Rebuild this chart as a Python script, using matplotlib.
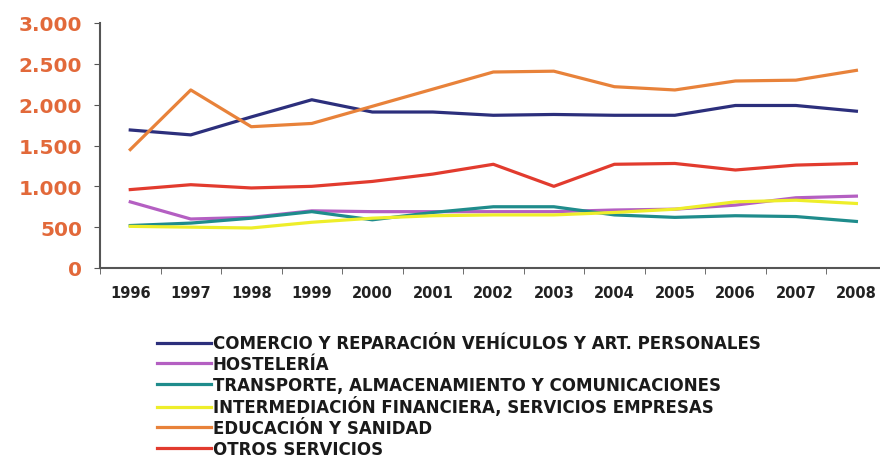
import matplotlib
matplotlib.use("Agg")
import matplotlib.pyplot as plt
from matplotlib.ticker import FuncFormatter, FixedLocator

years = ["1996", "1997", "1998", "1999", "2000", "2001", "2002",
         "2003", "2004", "2005", "2006", "2007", "2008"]

comercio = [1690, 1630, 1850, 2060, 1910, 1910, 1870, 1880, 1870, 1870, 1990, 1990, 1920]
hosteleria = [810, 600, 620, 700, 690, 690, 690, 690, 710, 720, 770, 860, 880]
transporte = [520, 550, 610, 690, 590, 680, 750, 750, 650, 620, 640, 630, 570]
intermediacion = [510, 500, 490, 560, 610, 640, 650, 650, 680, 720, 810, 830, 790]
educacion = [1450, 2180, 1730, 1770, 1980, 2190, 2400, 2410, 2220, 2180, 2290, 2300, 2420]
otros = [960, 1020, 980, 1000, 1060, 1150, 1270, 1000, 1270, 1280, 1200, 1260, 1280]

labels = [
    "COMERCIO Y REPARACIÓN VEHÍCULOS Y ART. PERSONALES",
    "HOSTELERÍA",
    "TRANSPORTE, ALMACENAMIENTO Y COMUNICACIONES",
    "INTERMEDIACIÓN FINANCIERA, SERVICIOS EMPRESAS",
    "EDUCACIÓN Y SANIDAD",
    "OTROS SERVICIOS",
]
series = [comercio, hosteleria, transporte, intermediacion, educacion, otros]
colors = ["#2c2f7c", "#b45fc2", "#1f8c8c", "#eeee2a", "#e8823a", "#e23b2e"]

fig = plt.figure(figsize=(8.8, 4.6), dpi=100)
ax = fig.add_axes([100 / 880, (460 - 269) / 460, 780 / 880, 245 / 460])

x = list(range(len(years)))
handles = []
for vals, col, lab in zip(series, colors, labels):
    h, = ax.plot(x, vals, color=col, lw=2.3, label=lab, solid_joinstyle="round")
    handles.append(h)

ax.set_ylim(0, 3000)
ax.set_xlim(-0.5, 12.39)
ax.set_yticks([0, 500, 1000, 1500, 2000, 2500, 3000])
ax.yaxis.set_major_formatter(FuncFormatter(lambda v, p: f"{int(v):,}".replace(",", ".")))
ax.set_xticks(x)
ax.set_xticklabels(years)
ax.xaxis.set_minor_locator(FixedLocator([i - 0.5 for i in range(len(years) + 1)]))
ax.tick_params(axis="x", which="major", length=0, pad=12)
ax.tick_params(axis="x", which="minor", length=4, direction="out", color="#555555")
ax.tick_params(axis="y", length=4, direction="out", color="#555555", pad=9)

for lbl in ax.get_yticklabels():
    lbl.set_fontsize(14.5)
    lbl.set_fontweight("bold")
    lbl.set_color("#e2693a")
for lbl in ax.get_xticklabels():
    lbl.set_fontsize(10.5)
    lbl.set_fontweight("bold")
    lbl.set_color("#222222")

for side in ("top", "right"):
    ax.spines[side].set_visible(False)
for side in ("left", "bottom"):
    ax.spines[side].set_color("#555555")
    ax.spines[side].set_linewidth(1.5)

fig.legend(handles=handles, loc="upper left", bbox_to_anchor=(149 / 880, 1 - 327 / 460),
           frameon=False, prop={"weight": "bold", "size": 12},
           handlelength=3.2, handletextpad=0.12, labelspacing=0.16,
           borderpad=0, labelcolor="#1a1a1a")

fig.savefig("out.png", dpi=100)
